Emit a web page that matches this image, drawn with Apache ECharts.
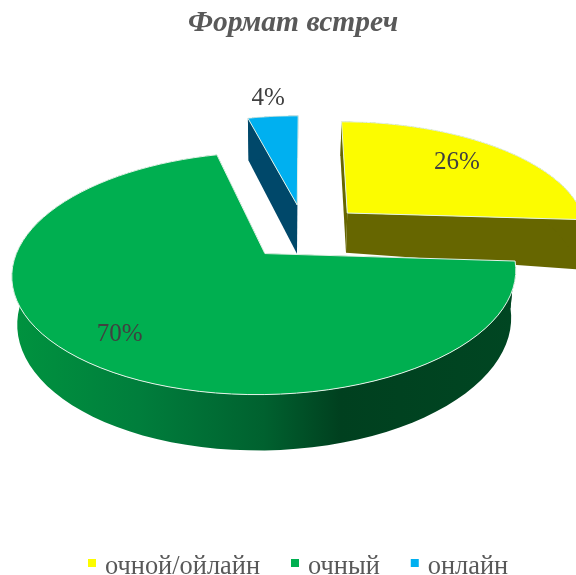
<!DOCTYPE html>
<html>
<head>
    <meta charset="utf-8">
    <title>ECharts</title>
    <script src="https://cdn.jsdelivr.net/npm/echarts@6/dist/echarts.min.js"></script>
    <style>html,body{margin:0;padding:0;background:#fff;}</style>
</head>
<body>
<div id="main" style="width:576px;height:575px;"></div>
<script type="text/javascript">
    var categories = ['очной/ойлайн', 'очный', 'онлайн'];
    var values = [26, 70, 4];
    var labels = ['26%', '70%', '4%'];
    var topColors = ['#FCFC00', '#00AF50', '#00B0F0'];
    var wallColors = ['#666600', '#00401F', '#00486A'];
    var labelRadius = [0.76, 0.79, 1.28];
    var labelTurn = [-0.066, 0.02, 0];
    var drawOrder = [1, 3, 2];
    var depthScale = [0.93, 1.03, 1.15];
    var depthTilt = [0.04, 0, 0];

    var FONT = '"Liberation Serif", serif';
    // перспектива: круг радиуса 1 в плоскости -> экран
    var cx = 304.5, cy = 231.5, sx = 241, sy = 111, persp = 0.158;
    var explode = 0.25, depth = 44, shrink = 0.98, shrinkX = 284;

    var total = values.reduce(function (a, b) { return a + b; }, 0);

    function project(u, v) {
        var w = 1 - persp * v;
        return [cx + sx * u / w, cy + sy * v / w, w];
    }

    function renderSlice(params, api) {
        var i = params.seriesIndex;
        var before = 0;
        for (var k = 0; k < i; k++) before += values[k];
        var a0 = before / total * Math.PI * 2;
        var a1 = (before + api.value(0)) / total * Math.PI * 2;
        var mid = (a0 + a1) / 2;
        var ou = Math.sin(mid) * explode, ov = -Math.cos(mid) * explode;

        var apex = project(ou, ov);
        var arc = [];
        var n = 80;
        for (var j = 0; j <= n; j++) {
            var a = a0 + (a1 - a0) * j / n;
            arc.push(project(ou + Math.sin(a), ov - Math.cos(a)));
        }
        var first = arc[0], last = arc[n];

        function lower(p) {
            var drop = depth * depthScale[i] / p[2] + depthTilt[i] * (p[0] - apex[0]);
            return [shrinkX + (p[0] - shrinkX) * shrink, p[1] + drop];
        }

        var wallFill = wallColors[i];
        if (i === 1) {
            wallFill = new echarts.graphic.LinearGradient(12, 0, 517, 0, [
                { offset: 0, color: '#00933F' },
                { offset: 0.25, color: '#007E3C' },
                { offset: 0.5, color: '#00612F' },
                { offset: 0.65, color: '#00401F' },
                { offset: 1, color: '#004622' }
            ], true);
        }
        var kids = [];
        function wall(list) {
            var pts = list.map(function (p) { return [p[0], p[1]]; });
            var low = list.slice().reverse().map(lower);
            kids.push({ type: 'polygon', shape: { points: pts.concat(low) }, style: { fill: wallFill } });
        }
        wall([apex, first]);
        wall([apex, last]);
        wall(arc);

        var top = [[apex[0], apex[1]]].concat(arc.map(function (p) { return [p[0], p[1]]; }));
        kids.push({
            type: 'polygon',
            shape: { points: top },
            style: { fill: topColors[i], stroke: '#E4F3E8', lineWidth: 1, lineJoin: 'round' }
        });

        var r = labelRadius[i], la = mid + labelTurn[i];
        var lp = project(ou + Math.sin(la) * r, ov - Math.cos(la) * r);
        kids.push({
            type: 'text',
            x: lp[0] + 1, y: lp[1] + 3,
            style: { text: labels[i], font: '25px ' + FONT, fill: '#404040', align: 'center', verticalAlign: 'middle' }
        });
        return { type: 'group', children: kids };
    }

    var myChart = echarts.init(document.getElementById('main'));
    var option = {
        animation: false,
        backgroundColor: '#fff',
        title: {
            text: 'Формат встреч',
            left: 183,
            top: 3,
            textStyle: { fontFamily: FONT, fontSize: 29.5, fontWeight: 'bold', fontStyle: 'italic', color: '#595959' }
        },
        legend: {
            data: categories,
            left: 83,
            top: 549,
            // квадрат в верхней части рамки значка, чтобы он стоял чуть выше текста
            icon: 'path://M0 0H8V8H0Z M0 16H8Z',
            itemWidth: 8,
            itemHeight: 16,
            itemGap: 31,
            textStyle: { fontFamily: FONT, fontSize: 26.4, color: '#595959', padding: [0, 0, 0, 4] }
        },
        series: categories.map(function (name, i) {
            return {
                type: 'custom',
                name: name,
                coordinateSystem: 'none',
                z: drawOrder[i],
                clip: false,
                silent: true,
                itemStyle: { color: topColors[i] },
                renderItem: renderSlice,
                data: [[values[i]]]
            };
        })
    };
    myChart.setOption(option);
</script>
</body>
</html>
